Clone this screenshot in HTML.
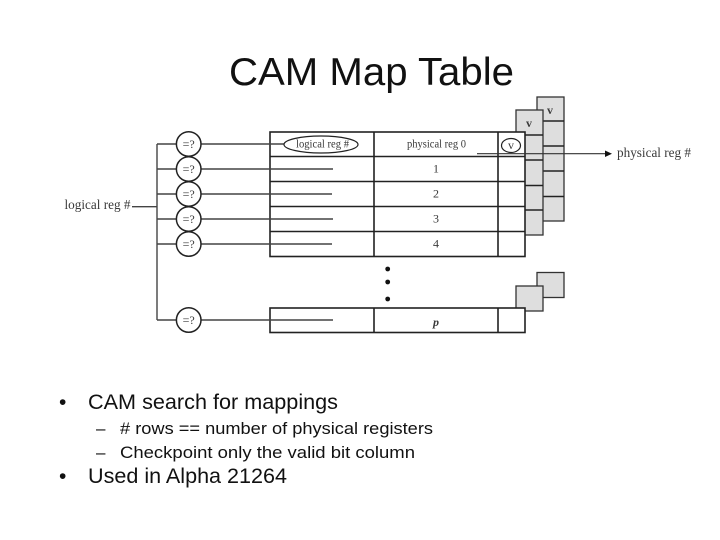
<!DOCTYPE html>
<html>
<head>
<meta charset="utf-8">
<style>
html,body{margin:0;padding:0;background:#fff;width:720px;height:540px;overflow:hidden}
svg{display:block}
.s{font-family:"Liberation Sans",sans-serif;fill:#111}
.f{font-family:"Liberation Serif",serif;fill:#3a3a3a}
.l{stroke:#444;stroke-width:1.4;fill:none}
.t{stroke:#222;stroke-width:1.6;fill:none}
.w{stroke:#222;stroke-width:1.6;fill:#fff}
.g{fill:#dedede;stroke:#333;stroke-width:1.3}
</style>
</head>
<body>
<svg width="720" height="540" viewBox="0 0 720 540" xmlns="http://www.w3.org/2000/svg">
<rect width="720" height="540" fill="#fff"/>
<text class="s" x="229" y="85" font-size="39" textLength="285" lengthAdjust="spacingAndGlyphs">CAM Map Table</text>

<!-- stacks -->
<rect class="g" x="537" y="97" width="27" height="124"/>
<path class="t" d="M537 121H564M537 146H564M537 171H564M537 196.500H564"/>
<rect class="g" x="516" y="110" width="27" height="125"/>
<path class="t" d="M516 135H543M516 160H543M516 185.500H543M516 210H543"/>
<rect class="g" x="537" y="272.500" width="27" height="25"/>
<rect class="g" x="516" y="286" width="27" height="25"/>
<text class="f" x="550" y="114" font-size="12" text-anchor="middle" font-weight="bold">v</text>
<text class="f" x="529" y="127" font-size="12" text-anchor="middle" font-weight="bold">v</text>

<!-- table -->
<rect class="w" x="270" y="132" width="255" height="124.500"/>
<path class="t" d="M270 156.500H525M270 181.500H525M270 206.500H525M270 231.500H525M374 132V256.500M498 132V256.500"/>
<rect class="w" x="270" y="308" width="255" height="24.500"/>
<path class="t" d="M374 308V332.500M498 308V332.500"/>

<!-- bus -->
<path class="l" d="M132 206.700H157M157 144V320M157 144H176M157 169H176M157 194H176M157 219H176M157 244H176M157 320H176"/>
<path class="l" d="M201 144H285M201 169H333M201 194H332M201 219H333M201 244H332M201 320H333"/>

<!-- comparators -->
<g fill="#fff" stroke="#222" stroke-width="1.5">
<circle cx="188.700" cy="144" r="12.300"/>
<circle cx="188.700" cy="169" r="12.300"/>
<circle cx="188.700" cy="194" r="12.300"/>
<circle cx="188.700" cy="219" r="12.300"/>
<circle cx="188.700" cy="244" r="12.300"/>
<circle cx="188.700" cy="320" r="12.300"/>
</g>
<g class="f" font-size="12" text-anchor="middle">
<text x="188.700" y="148">=?</text>
<text x="188.700" y="173">=?</text>
<text x="188.700" y="198">=?</text>
<text x="188.700" y="223">=?</text>
<text x="188.700" y="248">=?</text>
<text x="188.700" y="324">=?</text>
</g>

<ellipse cx="321" cy="144.500" rx="37" ry="8.500" fill="#fff" stroke="#222" stroke-width="1.2"/>
<text class="f" x="296" y="147.500" font-size="12" textLength="53" lengthAdjust="spacingAndGlyphs">logical reg #</text>
<text class="f" x="407" y="147.500" font-size="12" textLength="59" lengthAdjust="spacingAndGlyphs">physical reg 0</text>
<ellipse cx="511" cy="145.500" rx="9.500" ry="7" fill="#fff" stroke="#222" stroke-width="1.2"/>
<text class="f" x="511" y="149" font-size="12" text-anchor="middle">v</text>

<g class="f" font-size="12" text-anchor="middle">
<text x="436" y="172.500">1</text>
<text x="436" y="197.500">2</text>
<text x="436" y="222.500">3</text>
<text x="436" y="247.500">4</text>
<text x="436" y="326" font-style="italic" font-weight="bold">p</text>
</g>

<!-- arrow -->
<path d="M477 153.700H606" stroke="#333" stroke-width="1.1" fill="none"/>
<polygon points="605,150.500 612,153.700 605,157" fill="#111"/>
<text class="f" x="617" y="157" font-size="14" textLength="74" lengthAdjust="spacingAndGlyphs">physical reg #</text>
<text class="f" x="64.500" y="209" font-size="14" textLength="66" lengthAdjust="spacingAndGlyphs">logical reg #</text>

<!-- dots -->
<circle cx="387.700" cy="269" r="2.400" fill="#111"/>
<circle cx="387.700" cy="282" r="2.400" fill="#111"/>
<circle cx="387.700" cy="299" r="2.400" fill="#111"/>

<!-- bullets -->
<text class="s" x="59" y="409" font-size="21">•</text>
<text class="s" x="88" y="409" font-size="21" textLength="250" lengthAdjust="spacingAndGlyphs">CAM search for mappings</text>
<text class="s" x="96" y="434" font-size="17">–</text>
<text class="s" x="120" y="434" font-size="17" textLength="313" lengthAdjust="spacingAndGlyphs"># rows == number of physical registers</text>
<text class="s" x="96" y="458" font-size="17">–</text>
<text class="s" x="120" y="458" font-size="17" textLength="295" lengthAdjust="spacingAndGlyphs">Checkpoint only the valid bit column</text>
<text class="s" x="59" y="483" font-size="21">•</text>
<text class="s" x="88" y="483" font-size="21" textLength="199" lengthAdjust="spacingAndGlyphs">Used in Alpha 21264</text>
</svg>
</body>
</html>
